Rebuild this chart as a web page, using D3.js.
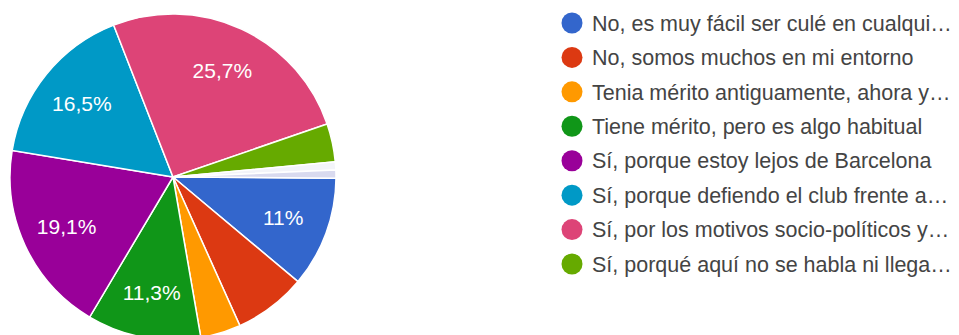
<!DOCTYPE html>
<html>
<head>
<meta charset="utf-8">
<script src="https://cdn.jsdelivr.net/npm/d3@7"></script>
<style>
  body { margin: 0; background: #fff; }
  text { font-family: "Liberation Sans", Arial, sans-serif; }
</style>
</head>
<body>
<div id="pie_chart"></div>
<script>
// answers as shown in the legend (truncated like the original)
const categories = [
    "No, es muy fácil ser culé en cualqui…",
    "No, somos muchos en mi entorno",
    "Tenia mérito antiguamente, ahora y…",
    "Tiene mérito, pero es algo habitual",
    "Sí, porque estoy lejos de Barcelona",
    "Sí, porque defiendo el club frente a…",
    "Sí, por los motivos socio-políticos y…",
    "Sí, porqué aquí no se habla ni llega…",
    "Otra respuesta 1",
    "Otra respuesta 2"
];
const percents = [11, 7.2, 4, 11.3, 19.1, 16.5, 25.7, 3.8, 0.8, 0.8];
const pctLabels = ["11%", "", "", "11,3%", "19,1%", "16,5%", "25,7%", "", "", ""];
const colors = ["#3366cc", "#dc3912", "#ff9900", "#109618", "#990099",
                "#0099c6", "#dd4477", "#66aa00", "#f3f4f9", "#d9daef"];
const legendCount = 8;

const width = 959, height = 335;
const cx = 173, cy = 177, radius = 163;

const svg = d3.select("#pie_chart").append("svg")
    .attr("width", width)
    .attr("height", height);

const data = categories.map((c, i) => ({name: c, value: percents[i], label: pctLabels[i], color: colors[i]}));

// slices start at 3 o'clock and run clockwise
const pie = d3.pie()
    .sort(null)
    .value(d => d.value)
    .startAngle(Math.PI / 2 + 0.007)
    .endAngle(Math.PI / 2 + 0.007 + 2 * Math.PI);

const arc = d3.arc().innerRadius(0).outerRadius(radius);
const labelArc = d3.arc().innerRadius(radius * 0.72).outerRadius(radius * 0.72);

const g = svg.append("g")
    .attr("transform", `translate(${cx}, ${cy})`);

g.selectAll("path")
    .data(pie(data))
    .join("path")
    .attr("d", arc)
    .attr("fill", d => d.data.color)
    .attr("stroke", "#fff")
    .attr("stroke-width", 1.5);

g.selectAll("text")
    .data(pie(data).filter(d => d.data.label))
    .join("text")
    .attr("transform", d => `translate(${labelArc.centroid(d)})`)
    .attr("text-anchor", "middle")
    .attr("dy", "0.36em")
    .attr("fill", "#fff")
    .style("font-size", "21px")
    .text(d => d.data.label);

// legend
const legendY = d3.scaleLinear()
    .domain([0, legendCount - 1])
    .range([23, 264]);

const legend = svg.append("g")
    .selectAll("g")
    .data(data.slice(0, legendCount))
    .join("g")
    .attr("transform", (d, i) => `translate(572, ${legendY(i)})`);

legend.append("circle")
    .attr("r", 10.5)
    .attr("fill", d => d.color);

legend.append("text")
    .attr("x", 20)
    .attr("dy", "0.36em")
    .attr("fill", "#444")
    .style("font-size", "21.5px")
    .text(d => d.name);
</script>
</body>
</html>
